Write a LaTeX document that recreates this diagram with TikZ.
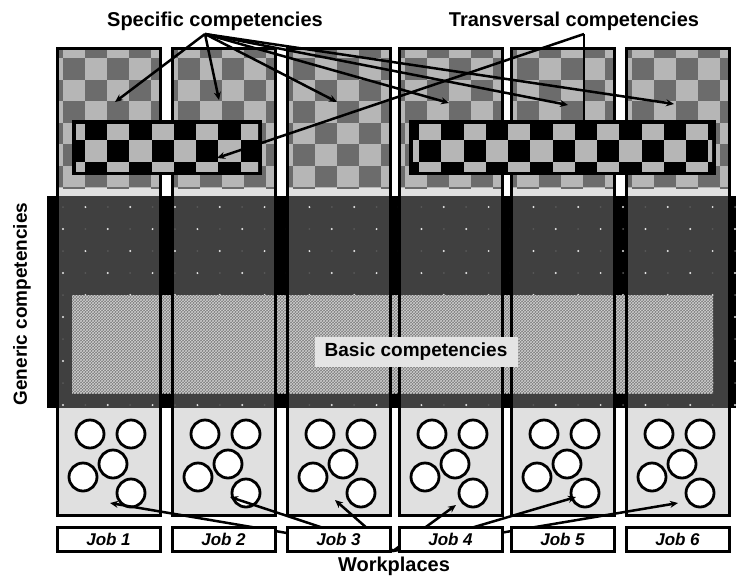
\documentclass[tikz,border=0pt]{standalone}
\usepackage{fontspec}
\setmainfont{Liberation Sans}
\usetikzlibrary{arrows.meta,patterns}
\definecolor{colfill}{HTML}{E0E0E0}
\definecolor{chklight}{HTML}{B6B6B6}
\definecolor{chkdark}{HTML}{6C6C6C}
\definecolor{bandgray}{HTML}{404040}
\definecolor{basgray}{HTML}{7C7C7C}
\definecolor{baspat}{HTML}{D0D0D0}
\definecolor{basbox}{HTML}{E4E4E4}

\begin{document}
\begin{tikzpicture}[x=1pt,y=-1pt,
  colline/.style={draw=black,line width=3pt},
  arr/.style={line width=2.5pt,-{Stealth[length=8pt,width=7pt]}},
  lbl/.style={inner sep=0pt,font=\fontsize{20}{24}\selectfont\bfseries},
  jobbox/.style={draw,line width=3pt,fill=white,minimum width=103pt,minimum height=24pt,inner sep=0pt,font=\fontsize{17}{20}\selectfont\bfseries\itshape}]
  \useasboundingbox (0,0) rectangle (736,576);
  % columns: checkered top part
  \foreach \c/\x in {1/57,2/172,3/287,4/399,5/511,6/626} {
    \fill[colfill] (\x,48) rectangle ++(103,467);
    \begin{scope}
      \clip (\x,48) rectangle ++(103,140);
      \fill[chklight] (\x,48) rectangle ++(103,140);
      \foreach \i in {-1,...,4}
        \foreach \j in {-1,...,6} {
          \pgfmathtruncatemacro\p{mod(\i+\j+10,2)}
          \ifnum\p=0 \fill[chkdark] (\x+6+22*\i,58+21.5*\j) rectangle ++(22,21.5); \fi
        }
    \end{scope}
  }
  % generic band
  \fill[bandgray] (47,196) rectangle (736,408);
  \foreach \a/\b in {47/57,160/172,275/287,390/399,502/511,614/626,729/736}
    \fill[black] (\a,196) rectangle (\b,408);
  \foreach \k in {0,...,30}
    \foreach \j in {0,...,9} {
      \pgfmathtruncatemacro\p{mod(\k+\j,2)}
      \ifnum\p=1 \fill[white!80!gray] (63+22.4*\k,207+22*\j) circle (1.1);
      \else \fill[gray!70!black] (63+22.4*\k,207+22*\j) circle (1); \fi
    }
  % basic band
  \fill[basgray] (72,295) rectangle (713,393);
  \fill[pattern=crosshatch,pattern color=baspat] (72,295) rectangle (713,393);
  \foreach \c/\x in {1/57,2/172,3/287,4/399,5/511,6/626} {
    \draw[colline] (\x,48) rectangle ++(103,467);
    \foreach \n/\dx/\dy in {1/33/434,2/74/434,3/56/464,4/26/477,5/74/493}
      \node[circle,draw,line width=2.8pt,fill=white,minimum size=28pt,inner sep=0pt] (k\c\n) at (\x+\dx,\dy) {};
  }
  \node[fill=basbox,minimum width=203pt,minimum height=30pt,inner sep=0pt,font=\fontsize{19}{22}\selectfont\bfseries] (basic) at (416,352) {Basic competencies};
  % inner boxes (specific / transversal)
  \foreach \L/\R/\o in {72/262/62.5,409/716/374.5} {
    \fill[black] (\L,120) rectangle (\R,175);
    \begin{scope}
      \clip (\L+4,124) rectangle (\R-4,171);
      \foreach \i in {0,...,7}
        \foreach \j in {0,1,2} {
          \pgfmathtruncatemacro\p{mod(\j,2)}
          \fill[chklight] (\o+44.5*\i+22.25*\p,118+22*\j) rectangle ++(22.25,22);
        }
    \end{scope}
  }
  % workplaces
  \coordinate (wh) at (393,551);
  \foreach \n/\x/\y in {1/110/503,2/230/497,3/335/500,4/456/505,5/576/497,6/678/503}
    \coordinate (w\n) at (\x,\y);
  \foreach \n in {1,...,6} \draw[arr] (wh) -- (w\n);
  \foreach \c/\x in {1/57,2/172,3/287,4/399,5/511,6/626}
    \node[jobbox] (job\c) at (\x+51.5,539) {Job \c};
  \node[lbl] (work) at (394,566) {Workplaces};
  % labels and arrows on top
  \node[lbl] (spec) at (215,21) {Specific competencies};
  \node[lbl] (trans) at (574,21) {Transversal competencies};
  \node[lbl,rotate=90,font=\fontsize{19}{22}\selectfont\bfseries] (gen) at (22,304) {Generic competencies};
  \coordinate (sh) at (205,34);
  \foreach \n/\x/\y in {1/115/102,2/219/100,3/337/102,4/449/103,5/568/105,6/674/104}
    \coordinate (s\n) at (\x,\y);
  \foreach \n in {1,...,6} \draw[arr] (sh) -- (s\n);
  \coordinate (th) at (584,34);
  \coordinate (t1) at (584,121);
  \coordinate (t2) at (217,158);
  \draw[line width=2.5pt] (th) -- (t1);
  \draw[arr] (th) -- (t2);
\end{tikzpicture}
\end{document}
